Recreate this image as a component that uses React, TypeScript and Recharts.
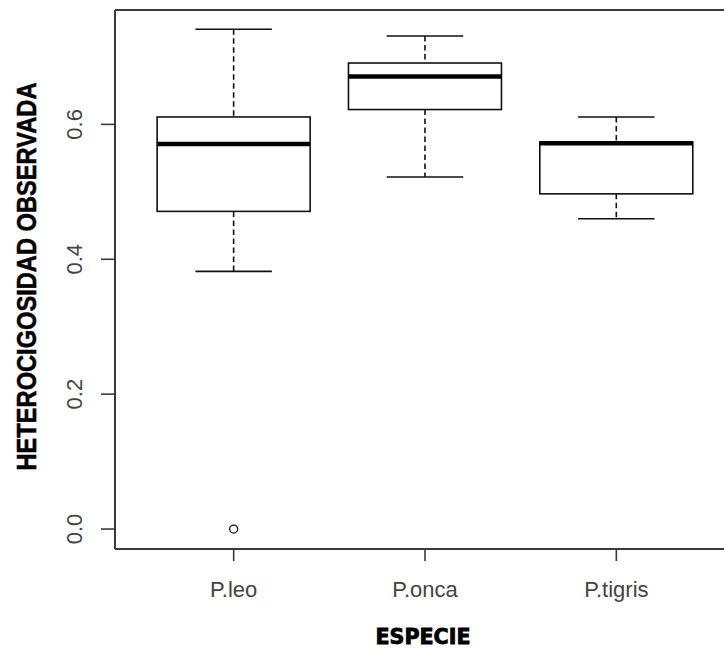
import React from 'react';
import { ComposedChart, Bar, Scatter, XAxis, YAxis, ReferenceLine, Label } from 'recharts';

const categories = ['P.leo', 'P.onca', 'P.tigris'];
const lowerWhisker = [0.382, 0.522, 0.46];
const q1 = [0.471, 0.622, 0.497];
const median = [0.571, 0.671, 0.572];
const q3 = [0.611, 0.691, 0.574];
const upperWhisker = [0.741, 0.731, 0.611];
const outlierCategories = ['P.leo'];
const outlierValues = [0];
const yTicks = [0, 0.2, 0.4, 0.6];
const yDomain: [number, number] = [-0.0296, 0.7696];

const data = categories.map((name, i) => ({
  name,
  range: [lowerWhisker[i], upperWhisker[i]],
  q1: q1[i],
  median: median[i],
  q3: q3[i],
}));
const outlierData = outlierCategories.map((name, i) => ({ name, out: outlierValues[i] }));

const INK = '#111';
const AXIS = '#3a3a3a';

const BoxShape = (props: any) => {
  const { x, y, width, height, payload } = props;
  const [lo, hi] = payload.range;
  const k = height / (hi - lo);
  const py = (v: number) => y + (hi - v) * k;
  const cx = x + width / 2;
  const capHalf = width / 4;
  return (
    <g>
      <line x1={cx} x2={cx} y1={py(hi)} y2={py(payload.q3)} stroke={INK} strokeWidth={1.6} strokeDasharray="5.5 3.5" />
      <line x1={cx} x2={cx} y1={py(payload.q1)} y2={py(lo)} stroke={INK} strokeWidth={1.6} strokeDasharray="5.5 3.5" />
      <line x1={cx - capHalf} x2={cx + capHalf} y1={py(hi)} y2={py(hi)} stroke={INK} strokeWidth={1.6} />
      <line x1={cx - capHalf} x2={cx + capHalf} y1={py(lo)} y2={py(lo)} stroke={INK} strokeWidth={1.6} />
      <rect x={x} y={py(payload.q3)} width={width} height={py(payload.q1) - py(payload.q3)} fill="#fff" stroke={INK} strokeWidth={1.6} />
      <line x1={x} x2={x + width} y1={py(payload.median)} y2={py(payload.median)} stroke="#000" strokeWidth={4.5} />
    </g>
  );
};

const OutlierShape = (props: any) => (
  <circle cx={props.cx} cy={props.cy} r={4} fill="none" stroke={INK} strokeWidth={1.3} />
);

const YTick = (props: any) => {
  const { x, y, payload } = props;
  return (
    <text x={x} y={y} transform={`rotate(-90, ${x}, ${y})`} textAnchor="middle" fontFamily="'Liberation Sans', Arial, sans-serif" fontSize={22} fill="#444">
      {Number(payload.value).toFixed(1)}
    </text>
  );
};

const XTick = (props: any) => {
  const { x, y, payload } = props;
  return (
    <text x={x} y={y} textAnchor="middle" fontFamily="'Liberation Sans', Arial, sans-serif" fontSize={22} fill="#444">
      {payload.value}
    </text>
  );
};

const YTitle = (props: any) => {
  const vb = props.viewBox;
  const cx = 36;
  const cy = vb.y + vb.height / 2 - 3;
  return (
    <text x={cx} y={cy} transform={`rotate(-90, ${cx}, ${cy})`} textAnchor="middle" fontFamily="'Liberation Sans Narrow', 'Liberation Sans', Arial, sans-serif" fontWeight="bold" fontSize={27} fill="#000" stroke="#000" strokeWidth={0.5} textLength={388} lengthAdjust="spacingAndGlyphs">
      HETEROCIGOSIDAD OBSERVADA
    </text>
  );
};

const XTitle = (props: any) => {
  const vb = props.viewBox;
  const cx = vb.x + vb.width / 2 - 2;
  const cy = vb.y + 95;
  return (
    <text x={cx} y={cy} textAnchor="middle" fontFamily="'DejaVu Sans Condensed', 'Liberation Sans', Arial, sans-serif" fontWeight={900} fontSize={22} fill="#000" stroke="#000" strokeWidth={0.8} textLength={95} lengthAdjust="spacingAndGlyphs">
      ESPECIE
    </text>
  );
};

export default function App() {
  return (
    <div style={{ position: 'absolute', left: 0, top: 0, width: 724, height: 650, overflow: 'hidden', background: '#fff' }}>
      <ComposedChart width={745} height={650} data={data} margin={{ top: 10, right: 10, bottom: 0, left: 0 }} barCategoryGap="10%">
        <XAxis
          dataKey="name"
          type="category"
          allowDuplicatedCategory={false}
          padding={{ left: 23, right: 23 }}
          height={101}
          interval={0}
          tickSize={12}
          tickMargin={36}
          tick={<XTick />}
          axisLine={{ stroke: AXIS, strokeWidth: 2 }}
          tickLine={{ stroke: AXIS, strokeWidth: 1.6 }}
        >
          <Label content={<XTitle />} />
        </XAxis>
        <YAxis
          type="number"
          domain={yDomain}
          ticks={yTicks}
          allowDataOverflow
          width={115}
          tickSize={14}
          tickMargin={19}
          tick={<YTick />}
          axisLine={{ stroke: AXIS, strokeWidth: 2 }}
          tickLine={{ stroke: AXIS, strokeWidth: 1.6 }}
        >
          <Label content={<YTitle />} />
        </YAxis>
        <ReferenceLine y={yDomain[1]} stroke={AXIS} strokeWidth={2} ifOverflow="visible" />
        <Bar dataKey="range" shape={<BoxShape />} isAnimationActive={false} />
        <Scatter data={outlierData} dataKey="out" shape={<OutlierShape />} isAnimationActive={false} />
      </ComposedChart>
    </div>
  );
}
